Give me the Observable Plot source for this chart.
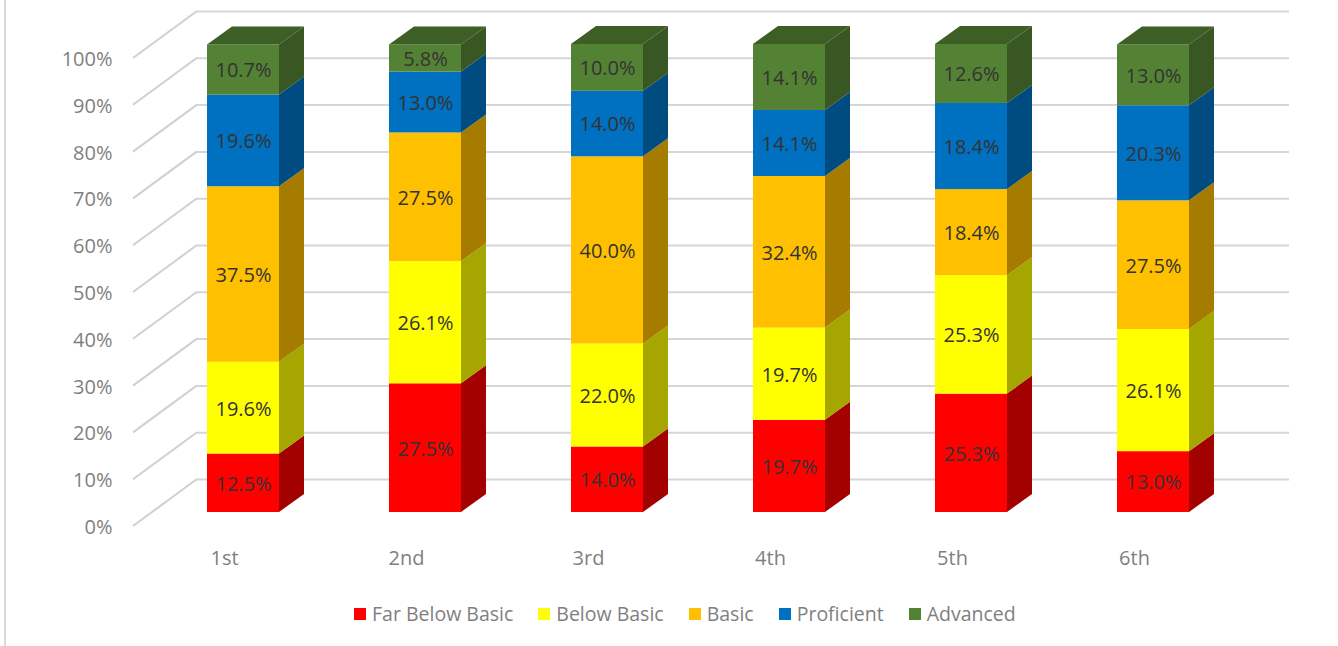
<!DOCTYPE html>
<html>
<head>
<meta charset="utf-8">
<script src="https://cdn.jsdelivr.net/npm/d3@7"></script>
<script src="https://cdn.jsdelivr.net/npm/@observablehq/plot@0.6"></script>
<style>
  html, body { margin: 0; padding: 0; background: #fff; }
  #wrap { position: relative; width: 1338px; height: 646px; overflow: hidden; font-family: 'Open Sans', sans-serif; }
  #border { position: absolute; left: 4px; top: 0; width: 2px; height: 646px; background: #d9d9d9; }
  #chart { position: absolute; left: 0; top: 0; }
  #legend { position: absolute; left: 354px; top: 600px; display: flex; align-items: center; font-size: 19.5px; color: #7f7f7f; white-space: nowrap; }
  #legend .item { display: flex; align-items: center; margin-right: 25px; }
  #legend .sw { width: 12px; height: 12px; margin-right: 6px; }
</style>
</head>
<body>
<div id="wrap">
  <div id="border"></div>
  <div id="chart"></div>
  <div id="legend"></div>
</div>
<script>
// ---- data ----
const grades = ["1st", "2nd", "3rd", "4th", "5th", "6th"];
const levels = ["Far Below Basic", "Below Basic", "Basic", "Proficient", "Advanced"];
const farBelowBasic = [12.5, 27.5, 14.0, 19.7, 25.3, 13.0];
const belowBasic    = [19.6, 26.1, 22.0, 19.7, 25.3, 26.1];
const basic         = [37.5, 27.5, 40.0, 32.4, 18.4, 27.5];
const proficient    = [19.6, 13.0, 14.0, 14.1, 18.4, 20.3];
const advanced      = [10.7,  5.8, 10.0, 14.1, 12.6, 13.0];
const yTicks = [0, 10, 20, 30, 40, 50, 60, 70, 80, 90, 100];

const frontColors = ["#FF0000", "#FFFF00", "#FFC000", "#0070C0", "#548235"];
const sideColors  = ["#A30000", "#A6A600", "#A67C00", "#004B80", "#385723"];
const topColors   = ["#B80000", "#BDBD00", "#BD8E00", "#005490", "#3D5F26"];

const seriesValues = [farBelowBasic, belowBasic, basic, proficient, advanced];
const rows = [];
grades.forEach((g, gi) => {
  levels.forEach((lvl, li) => rows.push({grade: g, level: lvl, value: seriesValues[li][gi]}));
});

// 3D depth (pixel styling)
const DX = 25, DY = -18;           // bar depth
const WALL_BACK_X = 45, WALL_BACK_Y = -33;   // front plane -> back wall
const WALL_FRONT_X = -19, WALL_FRONT_Y = 14; // front plane -> wall front edge

function render3d(index, scales, values, dimensions, context, next) {
  const g = next(index, scales, values, dimensions, context);
  const rects = Array.from(g.querySelectorAll("rect"));
  const layer = d3.create("svg:g");
  rects.forEach((r, j) => {
    const d = rows[index[j]];
    const li = levels.indexOf(d.level);
    const x = +r.getAttribute("x"), y = +r.getAttribute("y");
    const w = +r.getAttribute("width"), h = +r.getAttribute("height");
    layer.append("path")
      .attr("d", `M${x + w},${y}L${x + w + DX},${y + DY}L${x + w + DX},${y + h + DY}L${x + w},${y + h}Z`)
      .attr("fill", sideColors[li]);
    if (li === levels.length - 1) {
      layer.append("path")
        .attr("d", `M${x},${y}L${x + DX},${y + DY}L${x + w + DX},${y + DY}L${x + w},${y}Z`)
        .attr("fill", topColors[li]);
    }
  });
  g.appendChild(layer.node());
  return g;
}

function renderDiagonals(index, scales, values, dimensions) {
  const g = d3.create("svg:g");
  const x0 = dimensions.marginLeft;
  for (const i of index) {
    const y = values.y[i];
    g.append("line")
      .attr("x1", x0 + WALL_FRONT_X).attr("y1", y + WALL_FRONT_Y)
      .attr("x2", x0 + WALL_BACK_X).attr("y2", y + WALL_BACK_Y)
      .attr("stroke", "#d0d0d0").attr("stroke-width", 2);
  }
  return g.node();
}

const chart = Plot.plot({
  width: 1338,
  height: 580,
  marginLeft: 152,
  marginRight: 94,
  marginTop: 44,
  marginBottom: 68,
  style: {fontFamily: "'Open Sans', sans-serif", fontSize: "20px", color: "#7f7f7f", background: "transparent", overflow: "visible"},
  x: {domain: grades, paddingInner: 0.604, paddingOuter: 0.302, label: null},
  y: {domain: [0, 100], label: null},
  color: {domain: levels, range: frontColors},
  marks: [
    Plot.ruleY(yTicks, {y: d => d, render: renderDiagonals}),
    Plot.ruleY(yTicks, {y: d => d, dx: WALL_BACK_X, dy: WALL_BACK_Y, stroke: "#d6d6d6", strokeWidth: 2}),
    Plot.rectY(rows, Plot.stackY({x: "grade", y: "value", fill: "level", order: levels, render: render3d})),
    Plot.text(rows, Plot.stackY({x: "grade", y: "value", z: "level", order: levels,
      text: d => d.value.toFixed(1) + "%", fill: "#333333", fontSize: 20, dy: 1})),
    Plot.axisY(yTicks, {tickSize: 0, tickPadding: 40, dy: 15, tickFormat: d => d + "%", fontSize: 20, label: null}),
    Plot.axisX({tickSize: 0, tickPadding: 38, dx: -19, fontSize: 20, label: null})
  ]
});
document.getElementById("chart").appendChild(chart);

const legend = d3.select("#legend");
levels.forEach((lvl, i) => {
  const item = legend.append("div").attr("class", "item");
  item.append("div").attr("class", "sw").style("background", frontColors[i]);
  item.append("span").text(lvl);
});
</script>
</body>
</html>
